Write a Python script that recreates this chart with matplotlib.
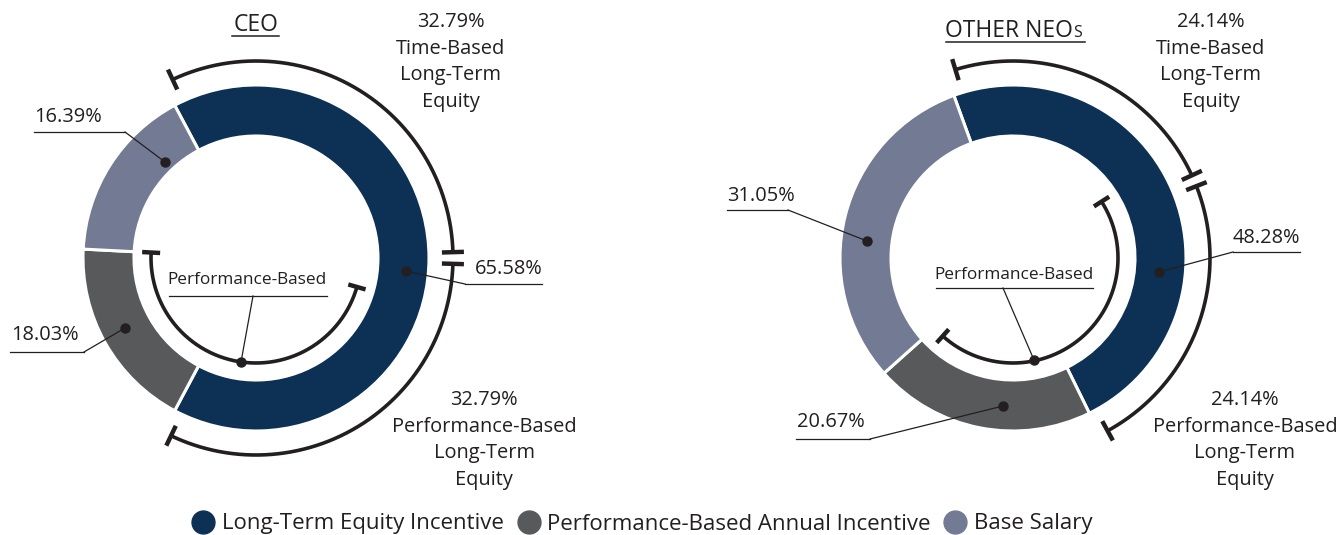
import numpy as np
import matplotlib
matplotlib.use("Agg")
import matplotlib.pyplot as plt
from matplotlib.lines import Line2D

plt.rcParams['font.family'] = ['Open Sans', 'DejaVu Sans']

# ---------------- data ----------------
categories = ['Long-Term Equity Incentive', 'Performance-Based Annual Incentive', 'Base Salary']
ceo_values = [65.58, 18.03, 16.39]
neo_values = [48.28, 20.67, 31.05]
ceo_equity_split = [32.79, 32.79]   # time-based, performance-based long-term equity
neo_equity_split = [24.14, 24.14]
titles = ['CEO', 'OTHER NEO']
title_suffix = ['', 'S']
colors = ['#0c3154', '#58595b', '#737a93']
ink = '#231f20'

W, H = 1340, 535
fig = plt.figure(figsize=(W / 100, H / 100), dpi=100)
ax = fig.add_axes([0, 0, 1, 1])

FS = 14.4


def Y(y):
    return H - y


def arc(cx, cy, r, a0, a1, lw=2.6):
    th = np.radians(np.linspace(a0, a1, 300))
    ax.plot(cx + r * np.cos(th), cy + r * np.sin(th), color=ink, lw=lw,
            solid_capstyle='butt', zorder=4)


def cap(cx, cy, r, a, half=11, lw=3.2):
    t = np.radians(a)
    ax.plot([cx + (r - half) * np.cos(t), cx + (r + half) * np.cos(t)],
            [cy + (r - half) * np.sin(t), cy + (r + half) * np.sin(t)],
            color=ink, lw=lw, solid_capstyle='butt', zorder=4)


def label(text, xc, yc, ul_x0, ul_x1, ul_y, lead_x, dot, fs=FS):
    ax.text(xc, Y(yc), text, ha='center', va='center', fontsize=fs, color=ink)
    ax.plot([ul_x0, ul_x1], [Y(ul_y), Y(ul_y)], color=ink, lw=0.9, zorder=5)
    ax.plot([lead_x, dot[0]], [Y(ul_y), Y(dot[1])], color=ink, lw=0.9, zorder=5)
    ax.plot(dot[0], Y(dot[1]), 'o', color=ink, ms=6.5, zorder=6)


def block(lines, xc, y0, step=26.7, fs=FS):
    for i, t in enumerate(lines):
        ax.text(xc, Y(y0 + i * step), t, ha='center', va='center', fontsize=fs, color=ink)


R, WIDTH, RB, RI = 173, 51, 197, 105

charts = [
    dict(values=ceo_values, split=ceo_equity_split, cx=256, cy=258,
         start=ceo_values[0] * 3.6 / 2, title_x=256, title_y=31, ul=(232, 279, 36),
         top_x=451, bot_x=484, inner=(177, 344),
         labels=[  # text, center, underline, leader start, dot
             (f'{ceo_values[2]:.2f}%', 68, 117, 34, 125, 132, 125, (165, 162)),
             (f'{ceo_values[1]:.2f}%', 45, 335, 10, 84, 352, 84, (125, 328)),
             (f'{ceo_values[0]:.2f}%', 509, 269, 465, 542, 284, 465, (406, 271)),
         ],
         perf=(247, 280, 169, 327, 296, 253, (241, 362))),
    dict(values=neo_values, split=neo_equity_split, cx=1013, cy=258,
         start=110, title_x=1073, title_y=37, ul=(946, 1085, 42),
         top_x=1211, bot_x=1245, inner=(-132, 32.5),
         labels=[
             (f'{neo_values[2]:.2f}%', 761, 196, 727, 788, 210, 788, (867, 241)),
             (f'{neo_values[1]:.2f}%', 831, 422, 796, 870, 439, 870, (1003, 406)),
             (f'{neo_values[0]:.2f}%', 1266, 238, 1233, 1300, 252, 1233, (1159, 272)),
         ],
         perf=(1014, 275, 936, 1093, 288, 1003, (1034, 360))),
]

for c, title, suf in zip(charts, titles, title_suffix):
    cx, cy = c['cx'], Y(c['cy'])
    ax.pie(c['values'], colors=colors, startangle=c['start'], counterclock=False,
           center=(cx, cy), radius=R,
           wedgeprops=dict(width=WIDTH, edgecolor='white', linewidth=2.2))
    # outer brackets for equity split
    s = c['start']
    mid = s - c['split'][0] * 3.6
    end = s - (c['split'][0] + c['split'][1]) * 3.6
    arc(cx, cy, RB, s - 3, mid + 1.7)
    cap(cx, cy, RB, s - 3)
    cap(cx, cy, RB, mid + 1.7)
    arc(cx, cy, RB, mid - 1.7, end + 2.5)
    cap(cx, cy, RB, mid - 1.7)
    cap(cx, cy, RB, end + 2.5)
    # inner performance-based arc
    a0, a1 = c['inner']
    arc(cx, cy, RI, a0, a1)
    cap(cx, cy, RI, a0, half=9)
    cap(cx, cy, RI, a1, half=9)
    # title (with small-cap suffix)
    if suf:
        ax.text(c['title_x'], Y(c['title_y']), title, ha='right', va='baseline',
                fontsize=16.5, color=ink)
        ax.text(c['title_x'] + 0.5, Y(c['title_y']), suf, ha='left', va='baseline',
                fontsize=11.5, color=ink)
    else:
        ax.text(c['title_x'], Y(c['title_y']), title, ha='center', va='baseline',
                fontsize=16.5, color=ink)
    x0, x1, uy = c['ul']
    ax.plot([x0, x1], [Y(uy), Y(uy)], color=ink, lw=1.1)
    # text blocks
    block([f'{c["split"][0]:.2f}%', 'Time-Based', 'Long-Term', 'Equity'], c['top_x'], 22)
    block([f'{c["split"][1]:.2f}%', 'Performance-Based', 'Long-Term', 'Equity'], c['bot_x'], 400)
    for t, xc, yc, u0, u1, uy, lx, dot in c['labels']:
        label(t, xc, yc, u0, u1, uy, lx, dot)
    xc, yc, u0, u1, uy, lx, dot = c['perf']
    label('Performance-Based', xc, yc, u0, u1, uy, lx, dot, fs=12.4)

ax.set_xlim(0, W)
ax.set_ylim(0, H)
ax.set_aspect('equal')
ax.axis('off')

handles = [Line2D([], [], marker='o', ls='none', color=col, ms=16.5) for col in colors]
fig.legend(handles, categories, loc='center', bbox_to_anchor=(642 / W, 1 - 524 / H), ncol=3,
           frameon=False, fontsize=16, handletextpad=0.3, columnspacing=0.55,
           handlelength=1.1, labelcolor=ink)

fig.savefig('out.png', dpi=100, facecolor='white')
